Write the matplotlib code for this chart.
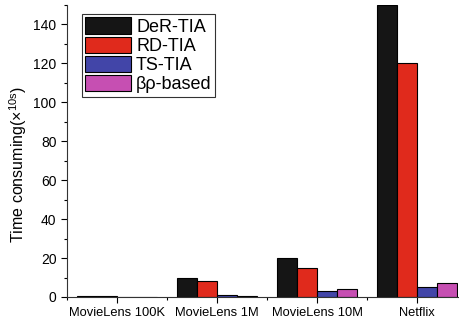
import matplotlib
matplotlib.use("Agg")
import matplotlib.pyplot as plt
import numpy as np
from matplotlib.ticker import MultipleLocator, FixedLocator

plt.rcParams['font.family'] = ['Liberation Sans', 'DejaVu Sans']
plt.rcParams['mathtext.fontset'] = 'custom'
plt.rcParams['mathtext.rm'] = 'Liberation Sans'
plt.rcParams['mathtext.it'] = 'Liberation Sans'

categories = ["MovieLens 100K", "MovieLens 1M", "MovieLens 10M", "Netflix"]
series_names = ["DeR-TIA", "RD-TIA", "TS-TIA", "βρ-based"]
der_tia = [0.3, 10, 20, 150]
rd_tia = [0.3, 8, 15, 120]
ts_tia = [0.1, 1, 3, 5]
bp_based = [0.1, 0.5, 4, 7]
colors = ["#151515", "#e02a1c", "#4245a8", "#c64fb2"]

fig = plt.figure(figsize=(4.6, 3.25), dpi=100)
ax = fig.add_axes([0.1457, 0.0862, 0.85, 0.8984])

x = np.arange(len(categories))
w = 0.2
for i, (vals, name, c) in enumerate(zip([der_tia, rd_tia, ts_tia, bp_based], series_names, colors)):
    ax.bar(x + (i - 1.5) * w, vals, width=w, color=c, edgecolor="black", linewidth=0.8, label=name)

ax.set_xlim(-0.5, 3.41)
ax.set_ylim(0, 150)
ax.set_xticks(x)
ax.set_xticklabels(categories, fontsize=9.3)
ax.xaxis.set_minor_locator(FixedLocator([-0.5, 0.5, 1.5, 2.5]))
ax.yaxis.set_major_locator(MultipleLocator(20))
ax.yaxis.set_minor_locator(MultipleLocator(10))
ax.tick_params(axis='both', which='major', direction='out', length=4, width=0.8, labelsize=10)
ax.tick_params(axis='both', which='minor', direction='out', length=2.5, width=0.8)
ax.tick_params(axis='x', labelsize=9.3)
for s in ['top', 'right']:
    ax.spines[s].set_visible(False)
for s in ['left', 'bottom']:
    ax.spines[s].set_linewidth(0.8)
    ax.spines[s].set_color('#333333')

ax.set_ylabel(r"Time consuming(×$^{10s}$)", fontsize=11.5)
ax.yaxis.set_label_coords(-0.098, 0.455)

leg = ax.legend(loc='upper left', bbox_to_anchor=(0.038, 0.97), fontsize=13, frameon=True,
                fancybox=False, edgecolor='black', handlelength=2.5, handleheight=1.0,
                borderpad=0.2, labelspacing=0.05, handletextpad=0.3, borderaxespad=0)
leg.get_frame().set_linewidth(0.8)

fig.savefig("out.png", dpi=100)
